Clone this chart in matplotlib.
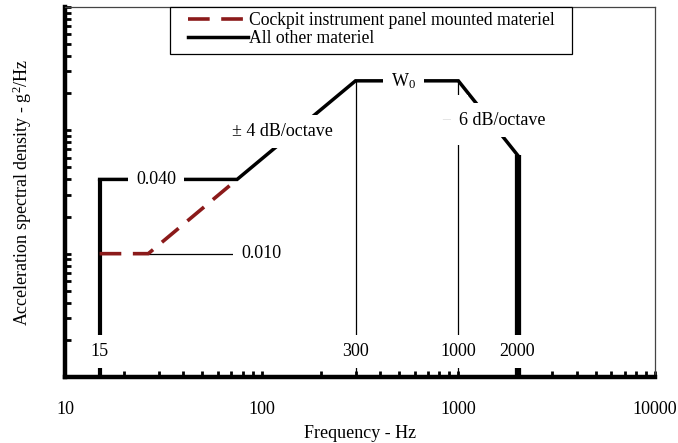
import matplotlib
matplotlib.use("Agg")
import matplotlib.pyplot as plt
from matplotlib.patches import Rectangle
from matplotlib.ticker import FixedLocator, FixedFormatter, LogLocator, NullFormatter

plt.rcParams["font.family"] = ["Liberation Serif", "DejaVu Serif"]
plt.rcParams["mathtext.fontset"] = "custom"
plt.rcParams["mathtext.rm"] = "Liberation Serif"
plt.rcParams["mathtext.it"] = "Liberation Serif:italic"

# Spectrum breakpoints (Hz, g^2/Hz)
other_freq = [15, 75, 300, 1000, 2000]
other_psd = [0.040, 0.040, 0.252, 0.252, 0.063]
cockpit_freq = [15, 26.5, 75]
cockpit_psd = [0.010, 0.010, 0.040]

# Frequency markers dropped to the axis
drop_freq = [15, 300, 1000, 2000]
drop_psd = [0.040, 0.252, 0.252, 0.063]
drop_labels = ["15", "300", "1000", "2000"]
drop_width = [3.0, 0.9, 0.9, 4.5]

x_ticks = [10, 100, 1000, 10000]
x_ticklabels = ["10", "100", "1000", "10000"]

RED = "#8b1a1a"
TXT = 13
box = dict(boxstyle="square,pad=0.45", fc="white", ec="none")

fig = plt.figure(figsize=(6.78, 4.43), dpi=100)
ax = fig.add_axes([65 / 678, 1 - 377 / 443, 590 / 678, 370 / 443])
ax.set_xscale("log")
ax.set_yscale("log")
ax.set_xlim(10, 10000)
ax.set_ylim(0.001, 1)

# vertical drops
for f, p, w in zip(drop_freq, drop_psd, drop_width):
    ax.plot([f, f], [0.001, p], color="black", lw=w, solid_capstyle="butt", zorder=2)

# leader line for the 0.010 level
ax.plot([cockpit_freq[1], 100], [cockpit_psd[1], cockpit_psd[1]], color="black", lw=0.9, zorder=2)

ax.plot(cockpit_freq, cockpit_psd, color=RED, lw=2.6, dashes=(6, 3.2), zorder=3,
        label="Cockpit instrument panel mounted materiel")
ax.plot(other_freq, other_psd, color="black", lw=2.5, zorder=4,
        solid_joinstyle="miter", label="All other materiel")

# labels on the lines (white boxes break the lines)
ax.text(29, 0.040, "0.040", fontsize=TXT, ha="center", va="center", bbox=box, zorder=6)
ax.text(100, 0.010, "0.010", fontsize=TXT, ha="center", va="center", bbox=box, zorder=6)
ax.text(128, 0.098, "\u00b1 4 dB/octave", fontsize=TXT, ha="center", va="center", bbox=box, zorder=6)
ax.text(528, 0.252, r"W$_{0}$", fontsize=TXT, ha="center", va="center", bbox=box, zorder=6)
ax.text(875, 0.121, "\u2013", fontsize=TXT, color="#dddddd", ha="center", va="center",
        bbox=dict(boxstyle="square,pad=0.9", fc="white", ec="none"), zorder=6)
ax.text(1680, 0.121, "6 dB/octave", fontsize=TXT, ha="center", va="center", bbox=box, zorder=6)
for f, lab in zip(drop_freq, drop_labels):
    ax.text(f, 0.0016, lab, fontsize=TXT, ha="center", va="center", bbox=box, zorder=6)

# axes styling
for side in ["left", "bottom"]:
    ax.spines[side].set_linewidth(3.2)
for side in ["top", "right"]:
    ax.spines[side].set_linewidth(0.9)
    ax.spines[side].set_color("#444444")

ax.xaxis.set_major_locator(FixedLocator(x_ticks))
ax.xaxis.set_major_formatter(FixedFormatter(x_ticklabels))
ax.xaxis.set_minor_locator(LogLocator(base=10, subs=range(2, 10)))
ax.xaxis.set_minor_formatter(NullFormatter())
ax.yaxis.set_major_locator(LogLocator(base=10))
ax.yaxis.set_minor_locator(LogLocator(base=10, subs=range(2, 10)))
ax.tick_params(axis="both", which="both", direction="in", length=4, width=2,
               top=False, right=False)
ax.tick_params(axis="x", which="major", pad=17, labelsize=TXT)
ax.tick_params(axis="y", which="both", labelleft=False)

ax.set_xlabel("Frequency - Hz", fontsize=TXT, labelpad=5)
ax.set_ylabel("Acceleration spectral density - g$^2$/Hz", fontsize=TXT, labelpad=22)

# legend box drawn separately so its padding matches the original
ax.add_patch(Rectangle(((170 - 65) / 590, 1 - 47 / 370), 402 / 590, 47 / 370,
                       transform=ax.transAxes, fc="white", ec="black", lw=0.9,
                       zorder=7, clip_on=False))
leg = ax.legend(loc="upper left", bbox_to_anchor=(0.199, 1.0), fontsize=12.7,
                frameon=False, borderaxespad=0, handlelength=3.4, handletextpad=0.1,
                borderpad=0.3, labelspacing=0.05)
leg.set_zorder(8)

fig.savefig("out.png", dpi=100)
